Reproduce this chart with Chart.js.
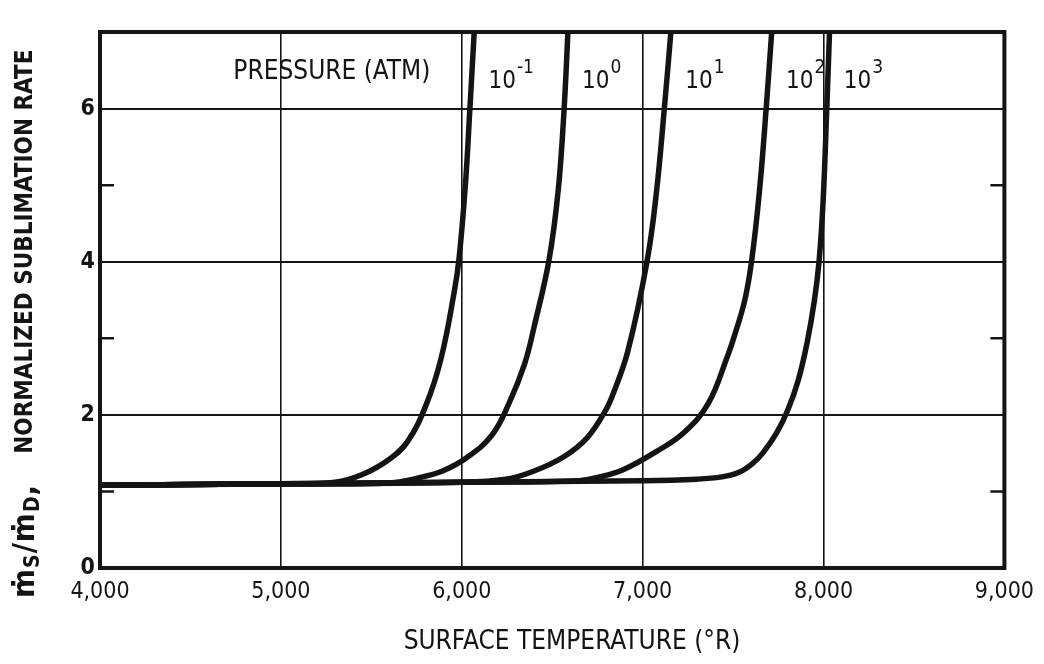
<!DOCTYPE html>
<html lang="en">
<head>
<meta charset="UTF-8">
<title>Normalized sublimation rate vs surface temperature</title>
<script src="https://cdn.jsdelivr.net/npm/chart.js"></script>
<style>
  body { margin: 0; background: #fff; }
  #wrap { width: 1044px; height: 664px; }
</style>
<script>
// pressure curves (atm)
const pressureBase = ['10', '10', '10', '10', '10'];
const pressureExp = ['-1', '0', '1', '2', '3'];

const tempM1 = [4000, 4500, 5000, 5300, 5450, 5600, 5700, 5803, 5885, 5958, 5985, 6020, 6045, 6070];
const rateM1 = [1.08, 1.09, 1.10, 1.12, 1.22, 1.42, 1.65, 2.13, 2.73, 3.60, 4.04, 5.00, 6.00, 7.05];

const temp0 = [4000, 5000, 5600, 5785, 5897, 6027, 6165, 6261, 6348, 6400, 6483, 6534, 6566, 6588];
const rate0 = [1.08, 1.10, 1.11, 1.19, 1.27, 1.44, 1.73, 2.15, 2.67, 3.15, 4.03, 4.95, 6.00, 7.05];

const temp1 = [4000, 5000, 6000, 6244, 6393, 6562, 6693, 6793, 6836, 6918, 7024, 7076, 7120, 7158];
const rate1 = [1.08, 1.10, 1.12, 1.16, 1.26, 1.45, 1.70, 2.05, 2.27, 2.83, 4.00, 4.90, 6.00, 7.05];

const temp2 = [4000, 5000, 6000, 6650, 6762, 6889, 7075, 7229, 7363, 7468, 7511, 7565, 7602, 7645, 7683, 7715];
const rate2 = [1.08, 1.10, 1.12, 1.14, 1.19, 1.28, 1.52, 1.77, 2.15, 2.76, 3.06, 3.50, 4.00, 4.90, 6.00, 7.05];

const temp3 = [4000, 5000, 6000, 7000, 7300, 7438, 7533, 7610, 7664, 7740, 7802, 7860, 7910, 7950, 7976, 7998, 8018, 8034];
const rate3 = [1.08, 1.10, 1.12, 1.14, 1.16, 1.19, 1.25, 1.37, 1.50, 1.76, 2.06, 2.45, 2.95, 3.50, 4.02, 4.80, 6.00, 7.05];

const xTicks = [4000, 5000, 6000, 7000, 8000, 9000];
const yTicks = [0, 2, 4, 6];
const yMinorTicks = [1, 3, 5];

const xTitle = 'SURFACE TEMPERATURE (°R)';
const legendTitle = 'PRESSURE (ATM)';

const INK = '#141414';
const NARROW = '"Liberation Sans Narrow", "DejaVu Sans Condensed", "DejaVu Sans", sans-serif';

function pts(xs, ys) {
    return xs.map((x, i) => ({ x: x, y: ys[i] }));
}

const seriesTemps = [tempM1, temp0, temp1, temp2, temp3];
const seriesRates = [rateM1, rate0, rate1, rate2, rate3];

// frame, inward minor ticks, curve labels and axis titles
const decor = {
    id: 'decor',
    afterDatasetsDraw(chart) {
        const ctx = chart.ctx;
        const a = chart.chartArea;
        const ys = chart.scales.y;
        const xs = chart.scales.x;
        ctx.save();
        ctx.strokeStyle = INK;
        ctx.lineWidth = 4;
        ctx.strokeRect(a.left, a.top, a.right - a.left, a.bottom - a.top);

        ctx.lineWidth = 2.5;
        yMinorTicks.forEach(v => {
            const py = ys.getPixelForValue(v);
            ctx.beginPath();
            ctx.moveTo(a.left, py); ctx.lineTo(a.left + 14, py);
            ctx.moveTo(a.right, py); ctx.lineTo(a.right - 14, py);
            ctx.stroke();
        });

        // pressure labels next to the top of each curve
        ctx.fillStyle = INK;
        ctx.textBaseline = 'middle';
        const labelY = ys.getPixelForValue(6.35);
        seriesTemps.forEach((t, i) => {
            const px = xs.getPixelForValue(t[t.length - 1]) + 14;
            ctx.font = '24px ' + NARROW;
            ctx.textAlign = 'left';
            ctx.fillText(pressureBase[i], px, labelY);
            const w = ctx.measureText(pressureBase[i]).width;
            ctx.font = '19px ' + NARROW;
            ctx.fillText(pressureExp[i], px + w + 1, labelY - 14);
        });
        const firstTop = xs.getPixelForValue(tempM1[tempM1.length - 1]);
        ctx.font = '26px ' + NARROW;
        ctx.textAlign = 'right';
        ctx.fillText(legendTitle, firstTop - 44, ys.getPixelForValue(6.48));

        // x title
        ctx.textAlign = 'center';
        ctx.font = '26px ' + NARROW;
        ctx.fillText(xTitle, 572, 642);

        // y title, rotated, with subscripts
        ctx.translate(26, 598);
        ctx.rotate(-Math.PI / 2);
        ctx.textAlign = 'left';
        const big = 'bold 24px ' + NARROW;
        const mdot = 'bold 31px ' + NARROW;
        const small = 'bold 21px ' + NARROW;
        const parts = [
            { t: 'ṁ', f: mdot, dy: 0 },
            { t: 'S', f: small, dy: 8 },
            { t: '/', f: mdot, dy: 0 },
            { t: 'ṁ', f: mdot, dy: 0 },
            { t: 'D', f: small, dy: 8 },
            { t: ',', f: mdot, dy: 2 },
            { t: '    NORMALIZED SUBLIMATION RATE', f: big, dy: 0 }
        ];
        let cx = 0;
        parts.forEach(p => {
            ctx.font = p.f;
            ctx.fillText(p.t, cx, p.dy);
            cx += ctx.measureText(p.t).width + 1;
        });
        ctx.restore();
    }
};

window.onload = function() {
    const ctx = document.getElementById('chart').getContext('2d');
    new Chart(ctx, {
        type: 'scatter',
        data: {
            datasets: seriesTemps.map((t, i) => ({
                label: pressureBase[i] + '^' + pressureExp[i],
                data: pts(t, seriesRates[i]),
                showLine: true,
                borderColor: INK,
                borderWidth: 5.5,
                pointRadius: 0,
                tension: 0.4,
                fill: false
            }))
        },
        options: {
            responsive: false,
            animation: false,
            layout: { padding: { left: 0, top: 32, right: 36, bottom: 0 } },
            plugins: { legend: { display: false }, tooltip: { enabled: false } },
            scales: {
                x: {
                    type: 'linear',
                    min: xTicks[0],
                    max: xTicks[xTicks.length - 1],
                    afterBuildTicks: s => { s.ticks = xTicks.map(v => ({ value: v })); },
                    afterFit: s => { s.height = 96; },
                    border: { display: false },
                    grid: { color: INK, lineWidth: 1.6, drawTicks: false },
                    ticks: {
                        color: INK,
                        padding: 10,
                        font: { family: NARROW, size: 23 },
                        callback: v => v.toLocaleString('en-US')
                    }
                },
                y: {
                    min: 0,
                    max: 7,
                    afterBuildTicks: s => { s.ticks = yTicks.map(v => ({ value: v })); },
                    afterFit: s => { s.width = 100; },
                    border: { display: false },
                    grid: { color: INK, lineWidth: 2, drawTicks: false },
                    ticks: {
                        color: INK,
                        padding: 5,
                        font: { family: NARROW, size: 23, weight: 'bold' },
                        callback: v => String(v)
                    }
                }
            }
        },
        plugins: [decor]
    });
};
</script>
</head>
<body>
<div id="wrap"><canvas id="chart" width="1044" height="664"></canvas></div>
</body>
</html>
